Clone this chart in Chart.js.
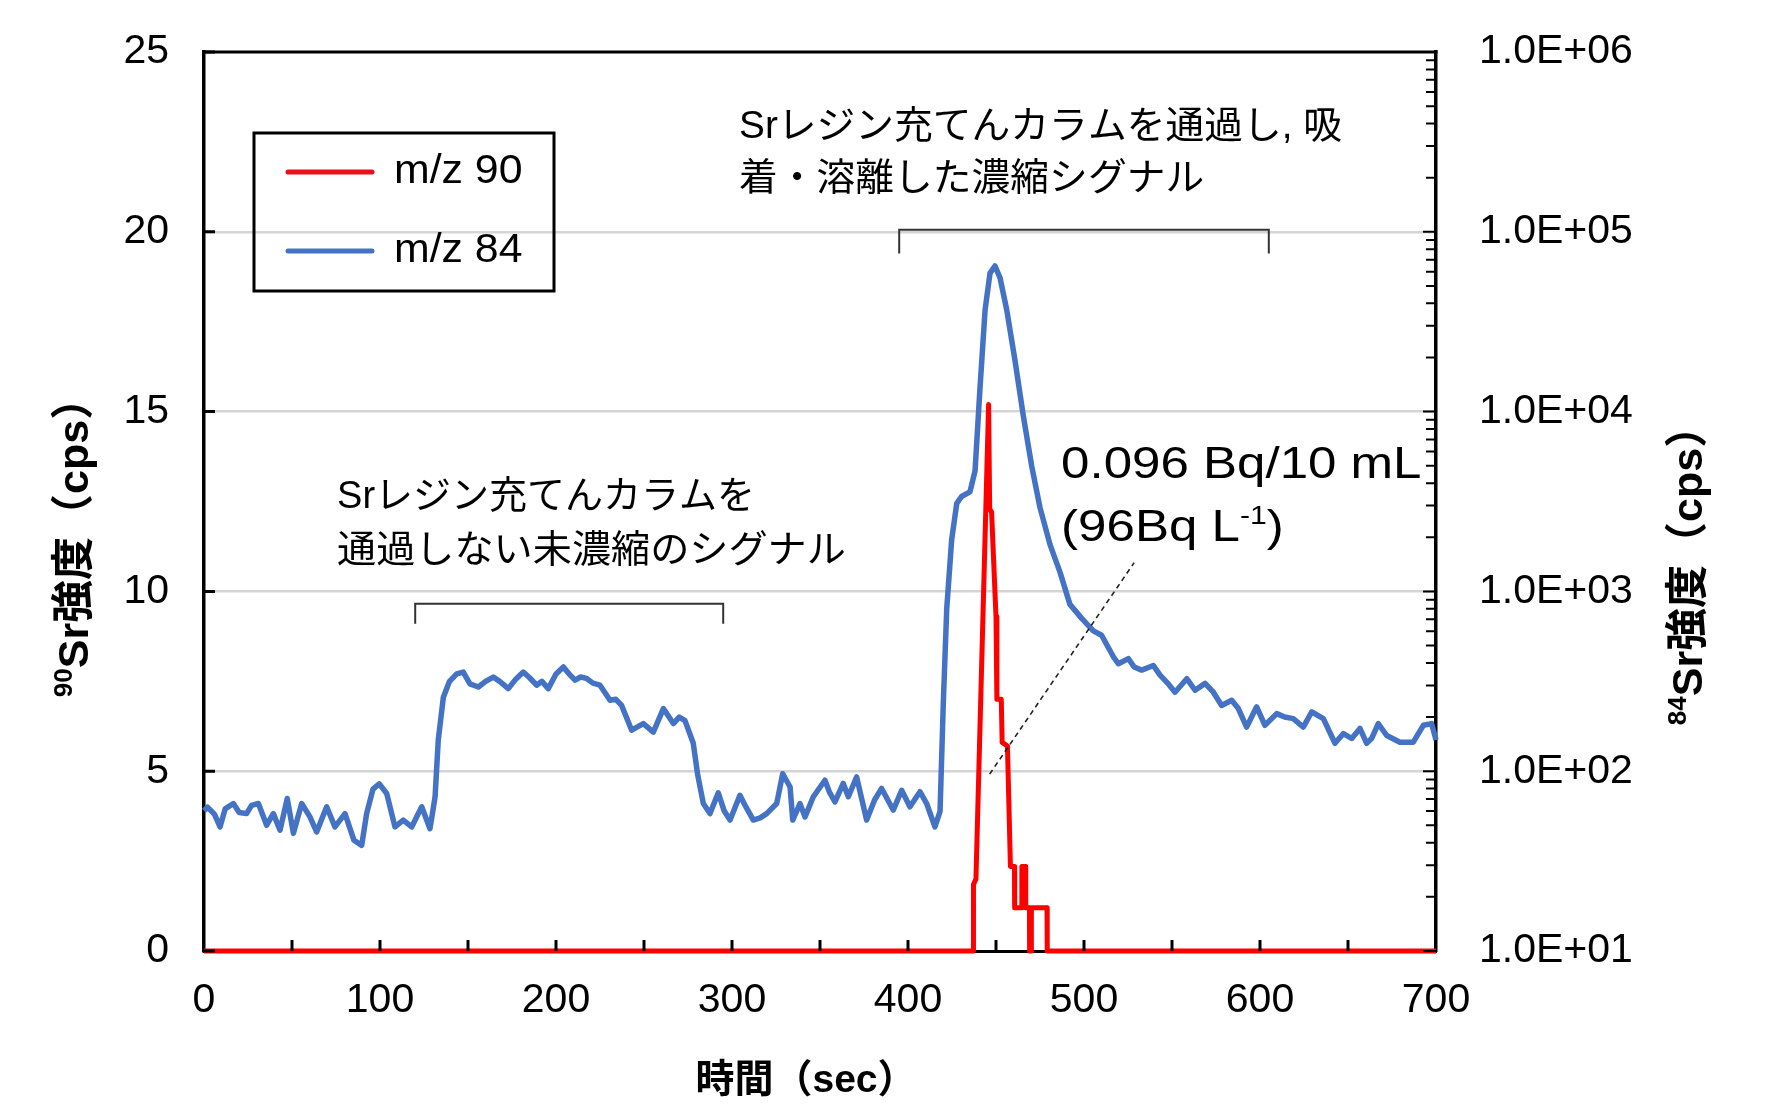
<!DOCTYPE html>
<html>
<head>
<meta charset="utf-8">
<script src="https://cdn.jsdelivr.net/npm/chart.js@4.4.1/dist/chart.umd.min.js"></script>
<style>
  html, body { margin: 0; padding: 0; background: #fff; }
  #wrap { width: 1769px; height: 1115px; position: relative; }
</style>
</head>
<body>
<div id="wrap"><canvas id="myChart"></canvas></div>
<script>
// ---------------- tick labels ----------------
var xTicks = [0, 100, 200, 300, 400, 500, 600, 700];
var xMinorTicks = [50, 100, 150, 200, 250, 300, 350, 400, 450, 500, 550, 600, 650];
var leftTicks = [0, 5, 10, 15, 20, 25];
var rightTicks = [1e1, 1e2, 1e3, 1e4, 1e5, 1e6];

// ---------------- m/z 90 (left axis, cps) ----------------
var redTime = [0, 437, 437.2, 438.6, 445.8, 446.4, 447.5, 450, 450.5, 453,
               453.5, 456.5, 458.2, 460.5, 460.6, 464.5, 464.7, 466.8, 466.9, 469,
               469.1, 470, 470.1, 479, 479.1, 700];
var redCps  = [0, 0, 1.85, 2.0, 15.2, 12.3, 12.2, 9.3, 7.0, 7.0,
               5.8, 5.7, 2.35, 2.35, 1.2, 1.2, 2.35, 2.35, 1.2, 1.2,
               0, 0, 1.2, 1.2, 0, 0];

// ---------------- m/z 84 (right log axis, cps) ----------------
var blueTime = [0, 2, 6, 9.1, 12, 16.7, 20, 24.2, 27, 30.9,
                35.6, 39.4, 43.2, 47.3, 50.8, 55.5, 60.2, 64, 69.7, 74.4,
                80.1, 85.2, 89.6, 92.4, 96, 99.6, 103.8, 108.5, 113.2, 118,
                123.7, 128.4, 131.3, 133.1, 136, 139.5, 143.6, 147.3, 151.1, 155.9,
                160, 164.4, 168, 172.9, 177, 181.4, 185, 189, 192, 195.6,
                200, 204.2, 207.5, 210.8, 214, 217.4, 221, 225, 230.7, 234,
                237.3, 243, 249.6, 255.3, 261, 266.7, 270, 273.3, 278, 280.5,
                283.7, 287.5, 292.2, 295.5, 298.9, 304.5, 308, 312.1, 316, 319.7,
                325.4, 328.8, 333, 334.5, 338.6, 341.5, 346.2, 352.8, 355.5, 358.5,
                363.2, 366.1, 370.8, 376.5, 381, 385, 391.6, 396.4, 401.1, 406.8,
                410.6, 415.3, 418.2, 420.1, 422, 424.8, 427.7, 430.5, 435.2, 438.1,
                440.9, 443.8, 446.6, 449.4, 452.3, 456.1, 460.8, 465.5, 470.3, 475,
                480.7, 486.4, 492, 498.7, 505.3, 510, 516.7, 519.5, 525.2, 528.5,
                532.8, 539.4, 543.2, 547.5, 551.7, 558.4, 563.1, 568.8, 573.5, 578.2,
                583.9, 587.7, 592.4, 598.1, 602.8, 609.5, 614, 618.9, 624.6, 629.4,
                636, 642.6, 647.4, 652.1, 656.8, 660.6, 663.4, 667.2, 672, 679.5,
                687.1, 692.8, 697.5, 700];
var blueCps  = [60.3, 63.1, 57.5, 49.0, 61.7, 66.1, 58.9, 58.1, 64.6, 66.1,
                50.1, 58.1, 47.0, 70.5, 45.1, 66.1, 55.7, 45.9, 63.4, 49.0,
                58.1, 41.3, 38.7, 58.1, 79.4, 85.1, 75.2, 49.0, 53.5, 49.0,
                63.4, 47.9, 72.1, 149, 258, 316, 348, 356, 306, 294,
                316, 334, 316, 288, 324, 356, 331, 301, 316, 288,
                347, 380, 347, 321, 334, 328, 309, 301, 248, 251,
                232, 169, 184, 165, 223, 184, 200, 191, 143, 95.5,
                66.1, 58.1, 75.9, 60.3, 53.5, 73.5, 63.1, 53.5, 55.0, 58.1,
                66.1, 96.8, 81.7, 53.5, 66.1, 55.7, 72.1, 89.1, 75.9, 67.6,
                85.5, 72.1, 92.9, 53.5, 69.2, 80.2, 60.8, 78.3, 63.4, 76.9,
                66.1, 49.0, 59.7, 245, 798, 1932, 3090, 3373, 3581, 4677,
                13490, 36810, 58880, 64570, 55460, 36810, 19230, 9506, 4966, 2924,
                1820, 1276, 847, 708, 603, 570, 433, 396, 423, 380,
                365, 387, 342, 309, 275, 327, 282, 308, 275, 232,
                248, 223, 176, 228, 180, 209, 200, 196, 176, 214,
                196, 143, 162, 152, 173, 143, 152, 184, 158, 145,
                145, 180, 184, 149];

var FONT = '"Liberation Sans", Arial, "Noto Sans CJK JP", sans-serif';
Chart.defaults.font.family = FONT;
Chart.defaults.color = '#000';

var redPts = redTime.map(function (t, i) { return { x: t, y: redCps[i] }; });
var bluePts = blueTime.map(function (t, i) { return { x: t, y: blueCps[i] }; });

// log minor ticks on the right axis (2..9 x each decade)
var rightMinor = [];
for (var d = 0; d < rightTicks.length - 1; d++) {
    for (var k = 2; k <= 9; k++) rightMinor.push(rightTicks[d] * k);
}

function fmtE(v) {
    var e = Math.round(Math.log10(v));
    return '1.0E+' + (e < 10 ? '0' + e : e);
}

// text helpers -----------------------------------------------------------
function drawRuns(c, runs, x, y, sx) {
    c.save();
    c.translate(x, y);
    c.scale(sx || 1, 1);
    c.textAlign = 'left';
    c.textBaseline = 'middle';
    c.fillStyle = '#000';
    var cx = 0;
    runs.forEach(function (r) {
        c.font = r.font;
        c.fillText(r.t, cx, r.dy || 0);
        cx += c.measureText(r.t).width;
    });
    c.restore();
}
function runsWidth(c, runs) {
    var w = 0;
    runs.forEach(function (r) { c.font = r.font; w += c.measureText(r.t).width; });
    return w;
}
function drawVertTitle(c, runs, cx, cy) {
    c.save();
    c.translate(cx, cy);
    c.rotate(-Math.PI / 2);
    var w = runsWidth(c, runs);
    drawRuns(c, runs, -w / 2, 0, 1);
    c.restore();
}

// ++++++++++++++++++++++ extra drawing (frame, ticks, notes) ++++++++++++++++++++++
var decorations = {
    id: 'decorations',
    beforeDatasetsDraw: function (chart) {
        var a = chart.chartArea, c = chart.ctx;
        c.save();
        c.strokeStyle = '#000';
        c.lineWidth = 3;
        c.beginPath();
        c.moveTo(a.left - 1.5, a.top);
        c.lineTo(a.right + 1.5, a.top);
        c.stroke();
        c.restore();
    },
    afterDatasetsDraw: function (chart) {
        var a = chart.chartArea, c = chart.ctx;
        var sx = chart.scales.x, sy = chart.scales.y, sr = chart.scales.y1;
        var X = function (v) { return sx.getPixelForValue(v); };
        var Y = function (v) { return sy.getPixelForValue(v); };

        // inner tick marks
        c.save();
        c.strokeStyle = '#000';
        c.lineWidth = 3;
        c.beginPath();
        xMinorTicks.forEach(function (v) { c.moveTo(X(v), a.bottom); c.lineTo(X(v), a.bottom - 11); });
        leftTicks.forEach(function (v) { c.moveTo(a.left, Y(v)); c.lineTo(a.left + 11, Y(v)); });
        c.stroke();
        c.lineWidth = 2;
        c.beginPath();
        rightTicks.forEach(function (v) { var p = sr.getPixelForValue(v); c.moveTo(a.right, p); c.lineTo(a.right - 13, p); });
        rightMinor.forEach(function (v) { var p = sr.getPixelForValue(v); c.moveTo(a.right, p); c.lineTo(a.right - 10, p); });
        c.stroke();

        // brackets
        c.strokeStyle = '#333';
        c.lineWidth = 2;
        c.beginPath();
        c.moveTo(X(395), Y(19.4)); c.lineTo(X(395), Y(20.06)); c.lineTo(X(605), Y(20.06)); c.lineTo(X(605), Y(19.4));
        c.moveTo(X(120), Y(9.1)); c.lineTo(X(120), Y(9.66)); c.lineTo(X(295), Y(9.66)); c.lineTo(X(295), Y(9.1));
        c.stroke();

        // dashed leader
        c.strokeStyle = '#222';
        c.lineWidth = 1.6;
        c.setLineDash([5, 4]);
        c.beginPath();
        c.moveTo(X(446.4), Y(4.92));
        c.lineTo(X(528.5), Y(10.8));
        c.stroke();
        c.setLineDash([]);
        c.restore();

        // notes
        var jp = '38px ' + FONT;
        drawRuns(c, [{ t: 'Srレジン充てんカラムを通過し, 吸', font: jp }], X(304), Y(22.9), 1.02);
        drawRuns(c, [{ t: '着・溶離した濃縮シグナル', font: jp }], X(304), Y(21.45), 1.02);
        drawRuns(c, [{ t: 'Srレジン充てんカラムを', font: jp }], X(75.6), Y(12.6), 1.0);
        drawRuns(c, [{ t: '通過しない未濃縮のシグナル', font: jp }], X(75.6), Y(11.1), 1.03);
        var big = '44px ' + FONT, sup = '26px ' + FONT;
        drawRuns(c, [{ t: '0.096 Bq/10 mL', font: big }], X(487), Y(13.5), 1.16);
        drawRuns(c, [{ t: '(96Bq L', font: big }, { t: '-1', font: sup, dy: -12 }, { t: ')', font: big }], X(487), Y(11.75), 1.16);

        // legend box
        var lx = a.left + 50, ly = a.top + 81;
        c.save();
        c.strokeStyle = '#000';
        c.lineWidth = 3;
        c.strokeRect(lx, ly, 300, 158);
        c.lineCap = 'round';
        c.lineWidth = 5;
        c.strokeStyle = '#e8101c';
        c.beginPath(); c.moveTo(lx + 34, ly + 39); c.lineTo(lx + 118, ly + 39); c.stroke();
        c.strokeStyle = '#4472c4';
        c.beginPath(); c.moveTo(lx + 34, ly + 118); c.lineTo(lx + 118, ly + 118); c.stroke();
        c.restore();
        var lf = '40px ' + FONT;
        drawRuns(c, [{ t: 'm/z 90', font: lf }], lx + 140, ly + 39, 1.07);
        drawRuns(c, [{ t: 'm/z 84', font: lf }], lx + 140, ly + 118, 1.07);
    },
    afterDraw: function (chart) {
        var c = chart.ctx;
        var tb = 'bold 43px ' + FONT, ts = 'bold 26px ' + FONT;
        drawVertTitle(c, [{ t: '90', font: ts, dy: -11 }, { t: 'Sr強度（cps）', font: tb }], 76, 537);
        drawVertTitle(c, [{ t: '84', font: ts, dy: -11 }, { t: 'Sr強度（cps）', font: tb }], 1690, 565);
        c.save();
        c.font = 'bold 39px ' + FONT;
        c.fillStyle = '#000';
        c.textAlign = 'center';
        c.textBaseline = 'middle';
        c.fillText('時間（sec）', 806, 1081);
        c.restore();
    }
};

// vertical axes: keep label overhang from pushing the plot area down
function fitVertical(width) {
    return function (s) {
        s.width = width;
        s.paddingTop = 0;
        s.paddingBottom = 0;
    };
}

// +++++++++++++++++++++++++ ADDING CHART +++++++++++++++++++++++++
var canvas = document.getElementById('myChart').getContext('2d');
var myChart = new Chart(canvas, {
    type: 'line',
    data: {
        datasets: [
            {
                label: 'm/z 90',
                data: redPts,
                yAxisID: 'y',
                borderColor: '#ff0000',
                borderWidth: 5,
                borderJoinStyle: 'round',
                pointRadius: 0,
                tension: 0,
                clip: false
            },
            {
                label: 'm/z 84',
                data: bluePts,
                yAxisID: 'y1',
                borderColor: '#4472c4',
                borderWidth: 5.5,
                borderJoinStyle: 'round',
                pointRadius: 0,
                tension: 0,
                clip: false
            }
        ]
    },
    options: {
        responsive: true,
        maintainAspectRatio: false,
        animation: false,
        layout: { padding: { top: 52, right: 0, bottom: 0, left: 0 } },
        plugins: {
            legend: { display: false },
            tooltip: { enabled: false }
        },
        scales: {
            x: {
                type: 'linear',
                position: 'bottom',
                min: 0,
                max: 700,
                afterBuildTicks: function (s) { s.ticks = xTicks.map(function (v) { return { value: v }; }); },
                ticks: { color: '#000', font: { size: 41 }, padding: 25, maxRotation: 0, autoSkip: false },
                grid: { display: false, drawTicks: false },
                border: { color: '#000', width: 3 },
                afterFit: function (s) { s.height = 164; }
            },
            y: {
                type: 'linear',
                position: 'left',
                min: 0,
                max: 25,
                afterBuildTicks: function (s) { s.ticks = leftTicks.map(function (v) { return { value: v }; }); },
                ticks: { color: '#000', font: { size: 41 }, padding: 35, autoSkip: false },
                grid: {
                    drawTicks: false,
                    lineWidth: 2.5,
                    color: function (ctx) {
                        var v = ctx.tick ? ctx.tick.value : null;
                        return (v === 0 || v === 25) ? 'rgba(0,0,0,0)' : '#d4d4d4';
                    }
                },
                border: { color: '#000', width: 3.5 },
                afterFit: fitVertical(204)
            },
            y1: {
                type: 'logarithmic',
                position: 'right',
                min: 10,
                max: 1e6,
                afterBuildTicks: function (s) { s.ticks = rightTicks.map(function (v) { return { value: v }; }); },
                ticks: {
                    color: '#000',
                    font: { size: 41 },
                    padding: 43,
                    autoSkip: false,
                    callback: function (value) { return fmtE(value); }
                },
                grid: { display: false, drawTicks: false },
                border: { color: '#000', width: 3.5 },
                afterFit: fitVertical(333)
            }
        }
    },
    plugins: [decorations]
});
</script>
</body>
</html>
